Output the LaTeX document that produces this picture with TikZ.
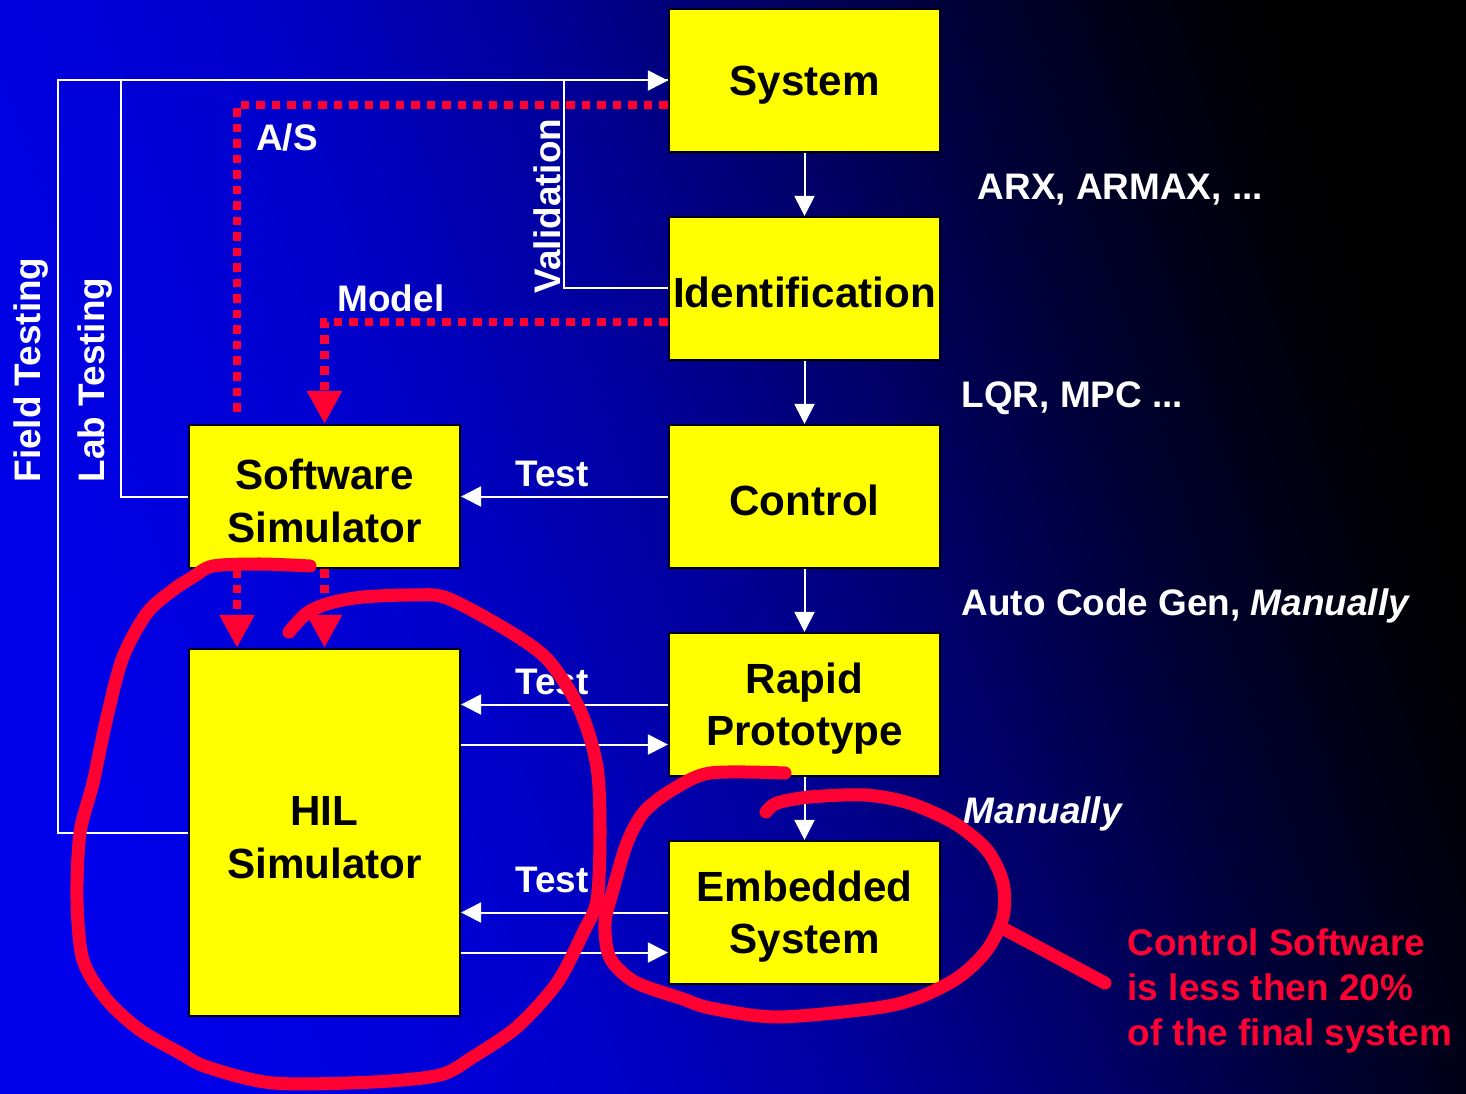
\documentclass[tikz,border=0pt]{standalone}
\usepackage{fontspec}
\setmainfont{Liberation Sans}
\usetikzlibrary{arrows.meta, calc}
\definecolor{boxyellow}{RGB}{255,255,0}
\definecolor{penred}{RGB}{255,0,51}
\pgfdeclarehorizontalshading{slidebg}{100bp}{rgb(0bp)=(0,0,0.92); rgb(25bp)=(0,0,0.92); rgb(39bp)=(0,0,0.80); rgb(49bp)=(0,0,0.6); rgb(57bp)=(0,0,0.4); rgb(66bp)=(0,0,0.16); rgb(73bp)=(0,0,0.02); rgb(75bp)=(0,0,0); rgb(100bp)=(0,0,0)}

\begin{document}
\begin{tikzpicture}[x=0.01cm, y=-0.01cm,
  blk/.style={draw=black, line width=0.02cm, fill=boxyellow, minimum width=2.71cm, minimum height=1.43cm, align=center, inner sep=0pt, font=\fontsize{12}{14.8}\selectfont\bfseries, execute at begin node={\rule{0pt}{#1}}},
  blk/.default=11.2pt,
  lbl/.style={text=white, inner sep=0pt, font=\fontsize{10.5}{12.6}\selectfont\bfseries},
  wline/.style={draw=white, line width=0.02cm},
  wtip/.style={-{Triangle[length=0.2cm, width=0.2cm]}},
  rdot/.style={draw=penred, line width=0.085cm, dash pattern=on 0.085cm off 0.07cm},
  rtip/.style={-{Triangle[length=0.33cm, width=0.33cm]}},
  pen/.style={draw=penred, line width=0.13cm, line cap=round, line join=round}]
\shade[shading=slidebg, shading angle=18] (0,0) rectangle (1466,1094);
\useasboundingbox (0,0) rectangle (1466,1094);

% blocks
\node[blk] (sys) at (804.5,80.5) {System};
\node[blk] (ident) at (804.5,288.5) {Identification};
\node[blk] (ctrl) at (804.5,496.5) {Control};
\node[blk=26pt] (rapid) at (804.5,704.5) {Rapid\\Prototype};
\node[blk=26pt] (embed) at (804.5,912.5) {Embedded\\System};
\node[blk=26pt] (swsim) at (324.5,496.5) {Software\\Simulator};
\node[blk=26pt, minimum height=3.67cm] (hil) at (324.5,832.5) {HIL\\Simulator};

% design chain
\draw[wline, wtip] (sys) -- (ident);
\draw[wline, wtip] (ident) -- (ctrl);
\draw[wline, wtip] (ctrl) -- (rapid);
\draw[wline, wtip] (rapid) -- (embed);

% tests
\draw[wline, wtip] (ctrl) -- (swsim);
\coordinate (rapidin) at ([yshift=-0.4cm]rapid.west);
\coordinate (embedin) at ([yshift=-0.4cm]embed.west);
\draw[wline, wtip] (rapid.west) -- (rapid.west -| hil.east);
\draw[wline, wtip] (hil.east |- rapidin) -- (rapidin);
\draw[wline, wtip] (embed.west) -- (embed.west -| hil.east);
\draw[wline, wtip] (hil.east |- embedin) -- (embedin);

% feedback to the system
\draw[wline, wtip] (hil.west) -- ++(-130,0) |- (sys.west);
\draw[wline] (swsim.west) -- ++(-67,0) |- (sys.west);
\draw[wline] (ident.west) -- ++(-104,0) |- (sys.west);

% models
\draw[rdot] ([yshift=-0.245cm]sys.west) -| ([xshift=-0.875cm, yshift=0.1cm]swsim.north);
\draw[rdot, rtip] ([yshift=-0.335cm]ident.west) -| (swsim.north);
\draw[rdot, rtip] ([xshift=-0.875cm]swsim.south) -- ([xshift=-0.875cm]hil.north);
\draw[rdot, rtip] (swsim.south) -- (hil.north);

% labels
\node[lbl] (asl) at (287,137) {A/S};
\node[lbl] (modl) at (391,298) {Model};
\node[lbl, rotate=90] (vall) at (547,206) {Validation};
\node[lbl, rotate=90] (fieldl) at (31,370) {Field Testing};
\node[lbl, rotate=90] (labl) at (95,380) {Lab Testing};
\node[lbl] (test1) at (552,474) {Test};
\node[lbl] (test2) at (552,682) {Test};
\node[lbl] (test3) at (552,880) {Test};
\node[lbl, anchor=west] (arx) at (977,190) {ARX, ARMAX, ...};
\node[lbl, anchor=west] (lqr) at (961,398) {LQR, MPC ...};
\node[lbl, anchor=west] (acg) at (961,606) {Auto Code Gen, \textit{Manually}};
\node[lbl, anchor=west] (man) at (963,814) {\textit{Manually}};
\node[lbl, text=penred, anchor=west, align=left, font=\fontsize{10.5}{12.8}\selectfont\bfseries] (note) at (1127,991) {Control Software\\is less then 20\%\\of the final system};

% pen marks
\draw[pen] plot[smooth, tension=0.5] coordinates {(310,566) (260,564) (213,566) (193,577) (173,590) (147,613) (123,657) (107,717) (93,783) (80,833) (77,900) (83,960) (107,1000) (140,1030) (180,1053) (207,1067) (273,1083) (373,1082) (440,1075) (473,1057) (517,1027) (557,983) (583,933) (597,900) (600,833) (597,767) (580,710) (548,660) (507,630) (447,598) (413,595) (363,597) (330,603) (307,613) (289,632)};
\draw[pen] plot[smooth, tension=0.5] coordinates {(785,773) (710,773) (672,790) (644,812) (627,843) (613,890) (605,923) (610,958) (635,982) (683,999) (710,1008) (777,1017) (876,1008) (920,997) (959,977) (987,950) (1003,917) (1003,883) (987,850) (954,823) (909,803) (865,795) (810,797) (777,803) (766,812)};
\draw[pen] (1006,930) -- (1105,983);
\end{tikzpicture}
\end{document}
